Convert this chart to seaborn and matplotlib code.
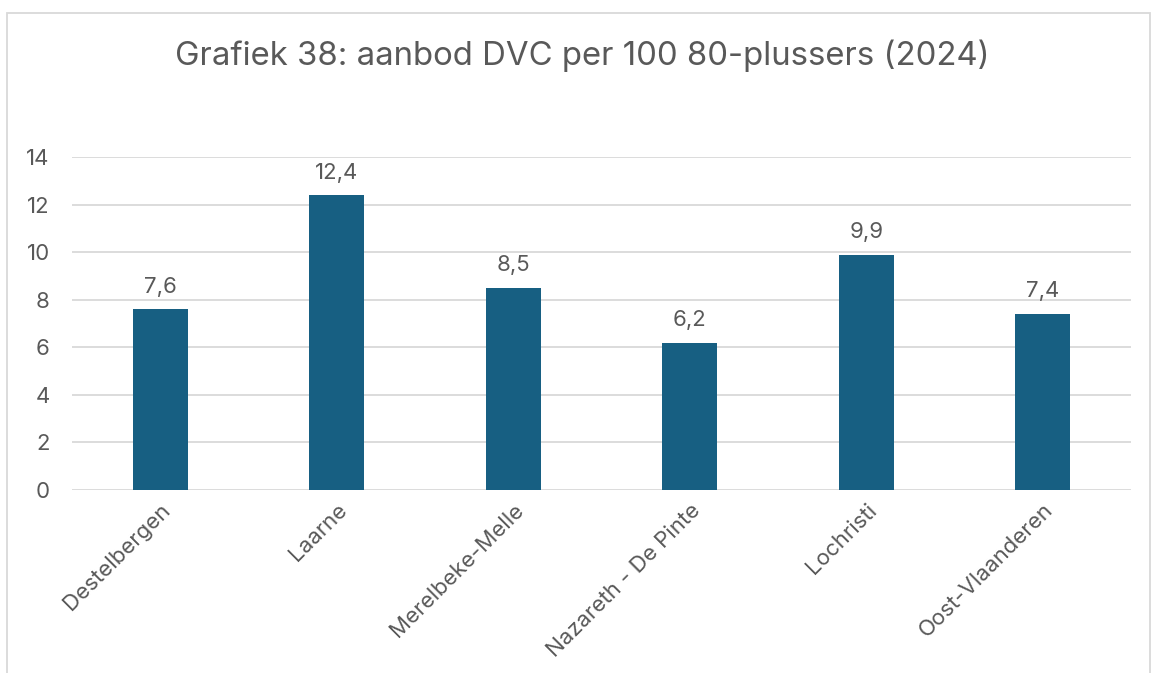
import matplotlib
matplotlib.use("Agg")
import matplotlib.pyplot as plt
from matplotlib.patches import Rectangle
import seaborn as sns
import pandas as pd

# Data
gemeenten = ["Destelbergen", "Laarne", "Merelbeke-Melle", "Nazareth - De Pinte",
             "Lochristi", "Oost-Vlaanderen"]
aanbod = [7.6, 12.4, 8.5, 6.2, 9.9, 7.4]
y_ticks = [0, 2, 4, 6, 8, 10, 12, 14]
titel = "Grafiek 38: aanbod DVC per 100 80-plussers (2024)"

df = pd.DataFrame({"gemeente": gemeenten, "aanbod": aanbod})

sns.set_theme(style="white")
plt.rcParams["font.family"] = ["Inter", "DejaVu Sans"]

text_color = "#595959"
bar_color = "#175F82"
grid_color = "#D9D9D9"

fig = plt.figure(figsize=(11.52, 6.73), dpi=100)
ax = fig.add_axes([72 / 1152, 1 - 490 / 673, (1131 - 72) / 1152, (490 - 157) / 673])

sns.barplot(data=df, x="gemeente", y="aanbod", color=bar_color, width=0.3125,
            saturation=1, linewidth=0, ax=ax, zorder=3)

ax.set_ylim(0, 14)
ax.set_xlim(-0.5, len(gemeenten) - 0.5)
ax.set_yticks(y_ticks)
ax.set_yticklabels([str(t) for t in y_ticks], fontsize=16, color=text_color)
ax.yaxis.grid(True, color=grid_color, linewidth=1.3, zorder=0)
ax.xaxis.grid(False)
for s in ax.spines.values():
    s.set_visible(False)
ax.tick_params(axis="y", length=0, pad=16)
ax.tick_params(axis="x", length=0, pad=7)
ax.set_xlabel("")
ax.set_ylabel("")
ax.set_xticks(range(len(gemeenten)))
ax.set_xticklabels(gemeenten, rotation=45, ha="right", rotation_mode="anchor",
                   fontsize=16, color=text_color)

# Value labels above bars
for i, v in enumerate(aanbod):
    ax.annotate(f"{v:.1f}".replace(".", ","), (i, v), xytext=(0, 9),
                textcoords="offset points", ha="center", va="bottom",
                fontsize=16, color=text_color)

fig.text(582 / 1152, 1 - 56 / 673, titel, ha="center", va="center",
         fontsize=23.7, color=text_color)

# Chart frame
fig.patches.append(Rectangle((7 / 1152, -0.05), (1150 - 7) / 1152, 1.05 - 13 / 673,
                             transform=fig.transFigure, fill=False,
                             edgecolor="#D9D9D9", linewidth=1.3))

fig.savefig("out.png", dpi=100)
